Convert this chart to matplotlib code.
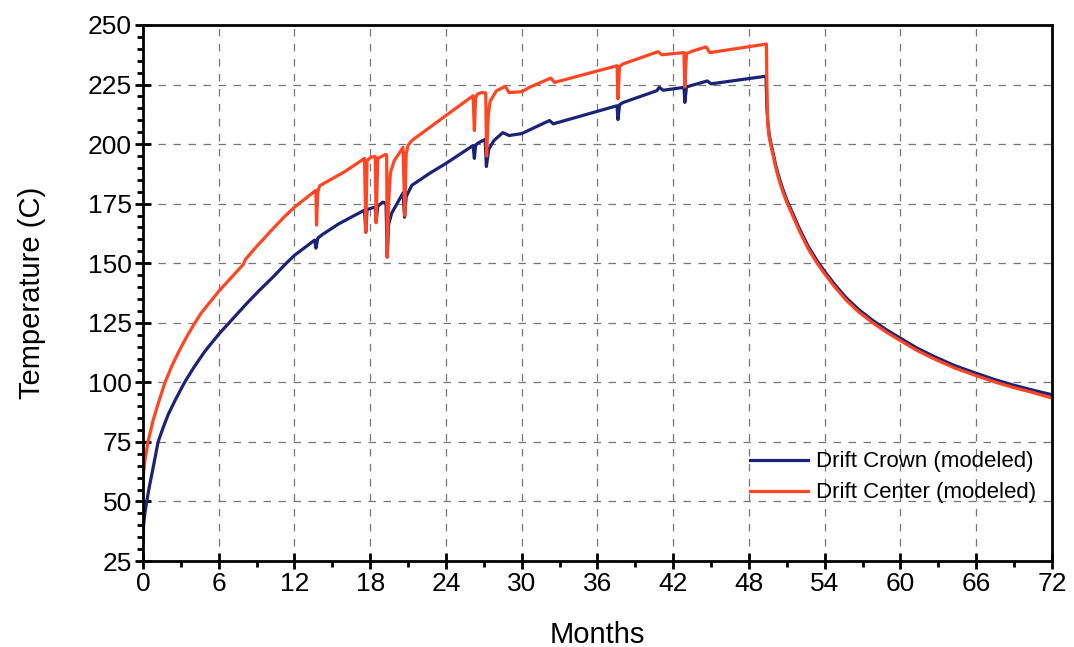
import matplotlib
matplotlib.use("Agg")
import matplotlib.pyplot as plt
from matplotlib.ticker import MultipleLocator

plt.rcParams['font.family'] = ['Liberation Sans', 'DejaVu Sans']

# modeled drift temperatures, months vs deg C
crown_months = [0, 0.05, 0.15, 0.3, 0.5, 0.8, 1.2, 1.6, 2.0, 2.6, 3.3, 4.0, 4.9,
                6.05, 7.0, 8.2, 9.2, 10.3, 11.2, 12.0,
                13.6, 13.7, 13.85, 14.2, 15.5, 17.55, 17.65, 17.75, 18.05, 18.4, 18.47,
                18.6, 19.0, 19.25, 19.35, 19.45, 19.7, 20.6, 20.72, 20.85, 21.3,
                22.7, 24.0, 26.15, 26.25, 26.35, 26.5, 27.1, 27.2, 27.4, 27.8,
                28.5, 29.0, 30.0, 32.2, 32.5, 37.55, 37.62, 37.75, 38.0, 40.7,
                40.9, 41.2, 42.85, 42.92, 43.05, 44.7, 45.0, 49.35, 49.42, 49.5,
                49.6, 49.75, 49.9, 50.1, 50.3, 50.5, 50.7, 51.0, 51.5, 52.0, 52.7,
                53.4, 54.0, 54.8, 55.7, 56.7, 57.8, 58.9, 60.0, 61.3, 62.6, 64.3,
                66.0, 67.5, 68.9, 70.5, 72.0]
crown_temp = [33, 40, 45, 50, 56, 64, 75, 81, 86.5, 93, 100, 106, 113,
              120.5, 126, 133, 138.5, 144.2, 149.2, 153.3,
              159.7, 156.3, 160.5, 162, 166.5, 172.3, 163, 172.5, 173.1, 173.5, 167.2,
              174, 175.6, 175.3, 152.6, 166, 171, 179.5, 169.3, 178, 182.7,
              187.7, 191.9, 199.4, 194, 199.5, 200.3, 202, 190.6, 198, 201.5,
              204.8, 203.6, 204.4, 209.9, 208.5, 216.1, 210.3, 216.5, 217.4, 222.4,
              223.8, 222.6, 223.8, 217.5, 224, 226.5, 225.3, 228.5, 215, 209,
              204, 200, 196.5, 191.5, 187.5, 184, 180.8, 176.5, 170.5, 164.5, 157,
              151, 146.5, 141, 135.5, 130.5, 126, 122, 118.5, 114.4, 111, 107,
              103.8, 101.1, 98.9, 96.7, 94.8]

center_months = [0, 0.05, 0.15, 0.4, 0.8, 1.2, 1.75, 2.3, 2.8, 3.4, 4.0, 4.6, 5.3,
                 6.05, 7.0, 7.95, 8.1, 9.0, 10.3, 11.2, 12.0, 13.7, 13.75, 13.85,
                 14.0, 14.5, 16.0, 17.55, 17.65,
                 17.75, 18.05, 18.4, 18.47, 18.6, 19.2, 19.3, 19.35, 19.45, 19.6,
                 19.9, 20.6, 20.74, 20.85, 21.0, 21.3, 24.0, 26.15, 26.25, 26.35,
                 26.5, 26.8, 27.15, 27.22, 27.35, 27.5, 28.0, 28.5, 28.7, 29.0,
                 30.0, 30.6, 32.3, 32.6, 37.55, 37.62, 37.75, 38.0, 40.8, 41.1,
                 42.85, 42.92, 43.05, 43.5, 44.6, 44.9, 49.38, 49.42, 49.45, 49.5,
                 49.6, 49.75, 49.9, 50.1, 50.3, 50.5, 50.7, 51.0, 51.5, 52.0, 52.7,
                 53.4, 54.0, 54.8, 55.7, 56.7, 57.8, 58.9, 60.0, 61.3, 62.6, 64.3,
                 66.0, 67.5, 68.9, 70.5, 72.0]
center_temp = [55, 62, 67, 75, 84, 91, 100, 107, 112.5, 118.5, 124, 129, 133.6,
               138.5, 144, 149.5, 151.5, 157, 164.5, 169.5, 173.5, 180.6, 166, 180,
               182.5, 184, 188.5, 194, 163,
               193, 194.5, 194.8, 167, 194, 195.6, 195.5, 152.6, 175, 188,
               193, 198.6, 170, 196, 199.5, 201.5, 212, 220.3, 205.7, 219.5,
               221, 221.6, 221.5, 195, 212, 218, 222.4, 223.7, 224.2, 221.6,
               222, 223.8, 227.7, 225.9, 232.9, 219, 232.5, 233.6, 238.8, 237.5,
               238.4, 224, 238, 239, 240.8, 238.4, 242, 225, 215, 208,
               203, 199, 195.5, 190.5, 186.5, 183, 179.8, 175.5, 169.5, 163.5, 156,
               150, 145.5, 140, 134.5, 129.5, 125, 121, 117.5, 113.4, 110, 106,
               102.8, 100.1, 97.9, 95.7, 93.4]

fig = plt.figure(figsize=(10.74, 6.47), dpi=100)
ax = fig.add_axes([0.1331, 0.1329, 0.8464, 0.8285])

ax.plot(crown_months, crown_temp, color='#1b2378', lw=2.3, label='Drift Crown (modeled)')
ax.plot(center_months, center_temp, color='#ff4522', lw=2.3, label='Drift Center (modeled)')

ax.set_xlim(0, 72)
ax.set_ylim(25, 250)
ax.xaxis.set_major_locator(MultipleLocator(6))
ax.xaxis.set_minor_locator(MultipleLocator(3))
ax.yaxis.set_major_locator(MultipleLocator(25))
ax.yaxis.set_minor_locator(MultipleLocator(5))

ax.grid(True, which='major', color='#777777', linestyle=(0, (6, 6)), linewidth=0.9)
for s in ax.spines.values():
    s.set_linewidth(2)
    s.set_color('black')

ax.tick_params(which='major', direction='inout', length=12, width=2, labelsize=19, pad=2)
ax.tick_params(which='minor', direction='out', length=4, width=2)
ax.tick_params(top=False, right=False)

ax.set_xlabel('Months', fontsize=21, labelpad=18)
ax.set_ylabel('Temperature (C)', fontsize=21, labelpad=30)

ax.legend(loc='lower right', bbox_to_anchor=(0.992, 0.091), frameon=False, fontsize=16,
          handlelength=2.6, handletextpad=0.35, labelspacing=0.45, borderaxespad=0)

fig.savefig('out.png', dpi=100)
